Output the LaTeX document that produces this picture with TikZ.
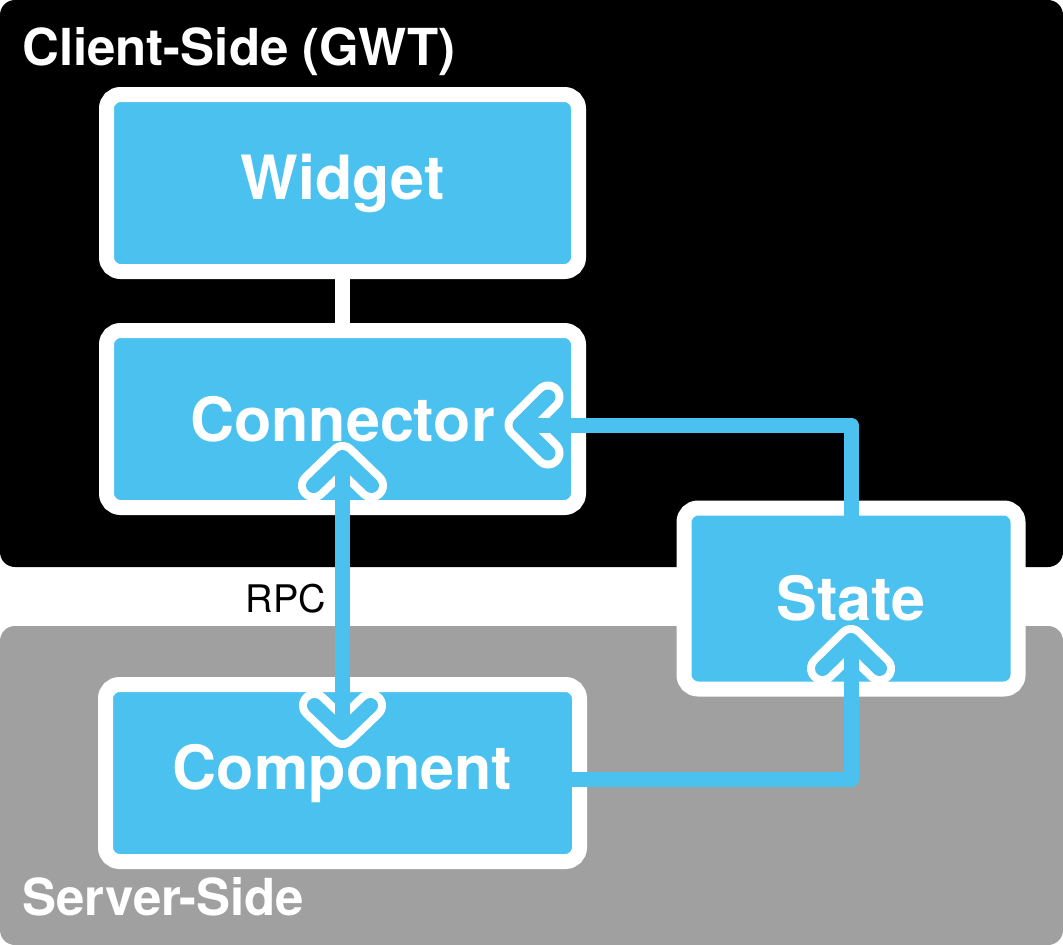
\documentclass[tikz,border=0pt]{standalone}
\usepackage{fontspec}
\setmainfont{TeX Gyre Heros}
\usetikzlibrary{calc}
\definecolor{boxblue}{HTML}{4BC1F0}
\definecolor{servergray}{HTML}{A0A0A0}
\begin{document}
\begin{tikzpicture}[x=1pt,y=-1pt,
  box/.style={draw=white, line width=15pt, fill=boxblue, rounded corners=14pt,
    inner sep=0pt, outer sep=0pt, text=white,
    font=\fontsize{61}{61}\selectfont\bfseries, text height=44pt},
  flow/.style={draw=boxblue, line width=15pt, line join=round},
  chevwhite/.style={draw=white, line width=31pt, line cap=round, line join=round},
  chevblue/.style={draw=boxblue, line width=15pt, line cap=round, line join=round},
  regiontitle/.style={anchor=base west, text=white, inner sep=0pt,
    font=\fontsize{51}{51}\selectfont\bfseries}
]
\useasboundingbox (0,0) rectangle (1063,945);
\fill[black, rounded corners=15pt] (0,0) rectangle (1063,567);
\fill[servergray, rounded corners=15pt] (0,626) rectangle (1063,945);

\node[regiontitle] (clienttitle) at (22,65) {Client-Side (GWT)};
\node[regiontitle] (servertitle) at (22,915) {Server-Side};
\node[anchor=base east, inner sep=0pt, font=\fontsize{38}{38}\selectfont] (rpc) at (326,612) {RPC};

\node[box, minimum width=472pt, minimum height=177pt, text depth=12pt] (widget) at (342.5,183) {Widget};
\node[box, minimum width=472pt, minimum height=177pt, text depth=0pt] (connector) at (342.5,419) {Connector};
\node[box, minimum width=474pt, minimum height=177pt, text depth=12pt] (component) at (342.5,773) {Component};
\node[box, minimum width=334pt, minimum height=181pt, text depth=0pt] (state) at (851,598.5) {State};

\draw[white, line width=15pt] (widget.south) -- (connector.north);

\coordinate (connIn) at ($(connector.east)+(-58.5,6)$);
\coordinate (stateOut) at ($(state.north)+(0,7.5)$);
\coordinate (rpcTop) at ($(connector.south)+(0,-50)$);
\coordinate (rpcBot) at ($(component.north)+(0,48)$);
\coordinate (compOut) at ($(component.east)+(-7.5,6.5)$);
\coordinate (stateIn) at ($(state.south)+(0,-48.5)$);

% white outlines of arrowheads
\draw[chevwhite] ($(connIn)+(28,-28)$) -- (connIn) -- ($(connIn)+(28,28)$);
\draw[chevwhite] ($(rpcTop)+(-29,28)$) -- (rpcTop) -- ($(rpcTop)+(29,28)$);
\draw[chevwhite] ($(rpcBot)+(-28,-27)$) -- (rpcBot) -- ($(rpcBot)+(28,-27)$);
\draw[chevwhite] ($(stateIn)+(-28.5,28)$) -- (stateIn) -- ($(stateIn)+(28.5,28)$);

% connectors
\draw[flow] (stateOut) |- (connIn);
\draw[flow] (rpcTop) -- (rpcBot);
\draw[flow] (compOut) -| (stateIn);

% arrowheads
\draw[chevblue] ($(connIn)+(28,-28)$) -- (connIn) -- ($(connIn)+(28,28)$);
\draw[chevblue] ($(rpcTop)+(-29,28)$) -- (rpcTop) -- ($(rpcTop)+(29,28)$);
\draw[chevblue] ($(rpcBot)+(-28,-27)$) -- (rpcBot) -- ($(rpcBot)+(28,-27)$);
\draw[chevblue] ($(stateIn)+(-28.5,28)$) -- (stateIn) -- ($(stateIn)+(28.5,28)$);
\end{tikzpicture}
\end{document}
